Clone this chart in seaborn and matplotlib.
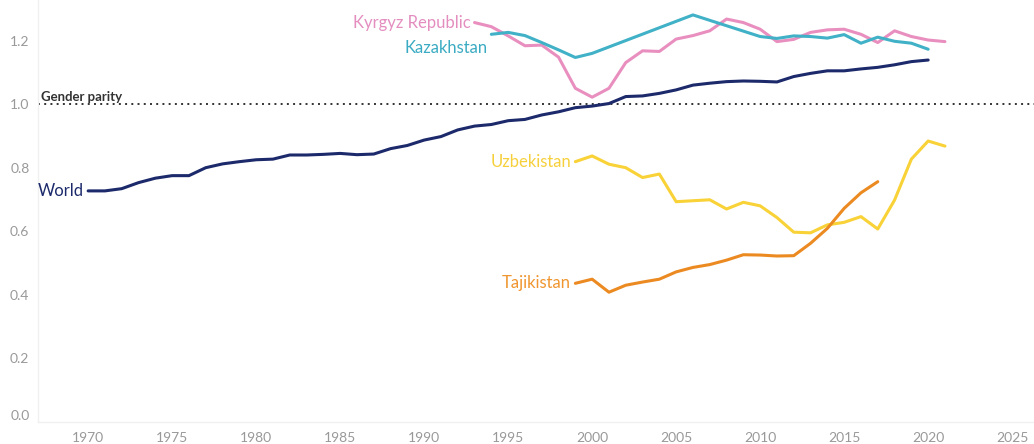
import numpy as np
import pandas as pd
import matplotlib
matplotlib.use("Agg")
import matplotlib.pyplot as plt
import seaborn as sns

# gender parity index
WORLD_YEARS = list(range(1970, 2021))
WORLD = [0.727, 0.727, 0.734, 0.753, 0.767, 0.775, 0.775, 0.800, 0.812, 0.819,
         0.825, 0.827, 0.840, 0.840, 0.842, 0.845, 0.841, 0.843, 0.860, 0.870,
         0.887, 0.898, 0.919, 0.931, 0.936, 0.948, 0.952, 0.966, 0.976, 0.989,
         0.994, 1.002, 1.024, 1.026, 1.034, 1.045, 1.060, 1.066, 1.071, 1.073,
         1.072, 1.070, 1.087, 1.097, 1.105, 1.105, 1.111, 1.116, 1.124, 1.134,
         1.139]

KYRGYZ_YEARS = list(range(1993, 2022))
KYRGYZ = [1.257, 1.244, 1.215, 1.184, 1.186, 1.148, 1.050, 1.022, 1.050, 1.131,
          1.168, 1.166, 1.205, 1.216, 1.231, 1.268, 1.257, 1.236, 1.197, 1.204,
          1.226, 1.234, 1.236, 1.220, 1.194, 1.231, 1.213, 1.202, 1.197]

KAZAKH_YEARS = [1994, 1995, 1996, 1997, 1998, 1999, 2000, 2006, 2010, 2011,
                2012, 2013, 2014, 2015, 2016, 2017, 2018, 2019, 2020]
KAZAKH = [1.220, 1.226, 1.216, 1.194, 1.171, 1.147, 1.160, 1.281, 1.213, 1.207,
          1.215, 1.213, 1.208, 1.219, 1.192, 1.211, 1.198, 1.192, 1.173]

UZBEK_YEARS = list(range(1999, 2022))
UZBEK = [0.819, 0.837, 0.811, 0.800, 0.769, 0.780, 0.693, 0.696, 0.699, 0.670,
         0.691, 0.680, 0.643, 0.597, 0.595, 0.620, 0.628, 0.646, 0.607, 0.698,
         0.827, 0.884, 0.868]

TAJIK_YEARS = list(range(1999, 2018))
TAJIK = [0.436, 0.449, 0.408, 0.430, 0.440, 0.449, 0.472, 0.486, 0.495, 0.509,
         0.526, 0.525, 0.522, 0.523, 0.562, 0.609, 0.672, 0.721, 0.756]

SERIES = {
    "World": (WORLD_YEARS, WORLD),
    "Kyrgyz Republic": (KYRGYZ_YEARS, KYRGYZ),
    "Kazakhstan": (KAZAKH_YEARS, KAZAKH),
    "Uzbekistan": (UZBEK_YEARS, UZBEK),
    "Tajikistan": (TAJIK_YEARS, TAJIK),
}

LINE_COLORS = {
    "World": "#1c2a6b",
    "Kyrgyz Republic": "#e98fbf",
    "Kazakhstan": "#40b1c6",
    "Uzbekistan": "#f8d237",
    "Tajikistan": "#ec8a22",
}
LABEL_COLORS = {
    "World": "#1c2a6b",
    "Kyrgyz Republic": "#e48ec0",
    "Kazakhstan": "#3aabc2",
    "Uzbekistan": "#f6d03c",
    "Tajikistan": "#f0952f",
}
# Kazakhstan's label sits below its line start so it clears the Kyrgyz one
LABEL_DY = {"Kazakhstan": -0.043}

X_TICKS = list(range(1970, 2030, 5))
Y_TICKS = [0.0, 0.2, 0.4, 0.6, 0.8, 1.0, 1.2]


def build_frame():
    rows = []
    for name, (years, values) in SERIES.items():
        for yr, v in zip(years, values):
            rows.append({"year": yr, "value": v, "country": name})
    return pd.DataFrame(rows)


def main():
    sns.set_style("white")
    plt.rcParams["font.family"] = ["Lato", "DejaVu Sans"]

    df = build_frame()

    fig = plt.figure(figsize=(10.34, 4.44), dpi=100)
    ax = fig.add_axes([0.0365, 0.05, 0.9635, 0.95])

    ax.axhline(1.0, color="#333333", linestyle=(0, (1, 2.2)), linewidth=1.4, zorder=1)

    sns.lineplot(
        data=df, x="year", y="value", hue="country",
        palette=LINE_COLORS, hue_order=list(SERIES.keys()),
        linewidth=2.2, legend=False, ax=ax, zorder=3,
    )
    # world line on top, as in the reference
    for line in ax.get_lines():
        if line.get_color() == LINE_COLORS["World"]:
            line.set_zorder(4)

    for name, (years, values) in SERIES.items():
        ax.text(years[0] - 0.25, values[0] + LABEL_DY.get(name, 0.0), name,
                color=LABEL_COLORS[name], fontsize=12, ha="right", va="center")

    ax.text(1967.2, 1.005, "Gender parity", color="#333333", fontsize=9.5,
            fontweight="bold", ha="left", va="bottom")

    ax.set_xlim(1967, 2026.3)
    ax.set_ylim(0, 1.328)
    ax.set_xticks(X_TICKS)
    ax.set_yticks(Y_TICKS)
    ax.set_xticklabels([str(t) for t in X_TICKS])
    ax.set_yticklabels([f"{t:.1f}" for t in Y_TICKS])
    ax.tick_params(axis="both", colors="#999999", labelsize=10, length=0)
    ax.tick_params(axis="x", length=3, color="#eeeeee", pad=4)
    ax.tick_params(axis="y", pad=6)
    ax.get_yticklabels()[0].set_va("bottom")
    ax.set_xlabel("")
    ax.set_ylabel("")

    for side in ["top", "right"]:
        ax.spines[side].set_visible(False)
    for side in ["left", "bottom"]:
        ax.spines[side].set_color("#f0f0f0")
        ax.spines[side].set_linewidth(1)

    fig.savefig("out.png", dpi=100)


if __name__ == "__main__":
    main()
